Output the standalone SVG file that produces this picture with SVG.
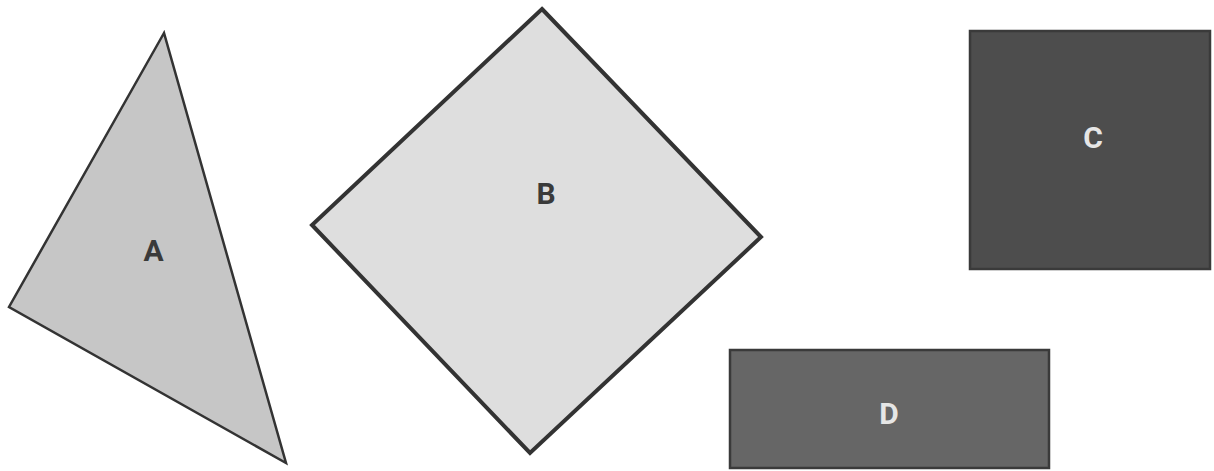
<svg xmlns="http://www.w3.org/2000/svg" width="1214" height="471" viewBox="0 0 1214 471">
<style>
.lbl{font-family:Roboto,"Liberation Sans",sans-serif;font-weight:bold;font-size:30px;text-anchor:middle}
.dark{fill:#3a3a3a}
.light{fill:#e6e6e6}
</style>
<rect width="1214" height="471" fill="#ffffff"/>
<g id="connectors"></g>
<g id="A">
<polygon points="164,33 9,307 286,463" fill="#c6c6c6" stroke="#333333" stroke-width="2.5" stroke-linejoin="miter"/>
<text class="lbl dark" x="153.5" y="261">A</text>
</g>
<g id="B">
<polygon points="542,9 761,237 530,453 312,225" fill="#dedede" stroke="#333333" stroke-width="4"/>
<text class="lbl dark" x="546" y="204">B</text>
</g>
<g id="C">
<rect x="970" y="31" width="240" height="238" fill="#4d4d4d" stroke="#3a3a3a" stroke-width="2.5"/>
<text class="lbl light" x="1093" y="148">C</text>
</g>
<g id="D">
<rect x="730" y="350" width="319" height="118" fill="#666666" stroke="#3a3a3a" stroke-width="2.5"/>
<text class="lbl light" x="889" y="424">D</text>
</g>
</svg>
